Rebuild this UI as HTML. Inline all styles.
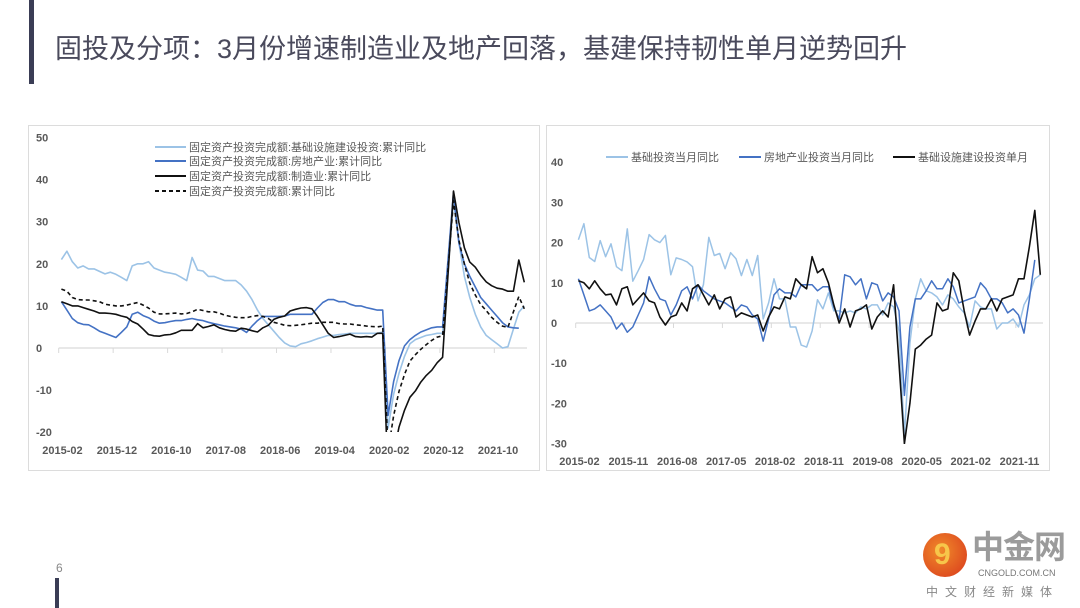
<!DOCTYPE html>
<html><head><meta charset="utf-8">
<style>
body{margin:0;width:1080px;height:608px;background:#fff;overflow:hidden;position:relative;font-family:"Liberation Sans","Noto Sans CJK SC",sans-serif;}
.abs{position:absolute;white-space:nowrap;}
</style></head>
<body>
<div class="abs" style="left:29px;top:0;width:5px;height:84px;background:#3a3d55"></div>
<div class="abs" style="left:55px;top:27px;font-size:27px;color:#4a4a5c;font-family:'Liberation Sans','Noto Sans CJK SC',sans-serif">固投及分项：3月份增速制造业及地产回落，基建保持韧性单月逆势回升</div>
<div class="abs" style="left:56px;top:561px;font-size:12px;color:#888">6</div>
<div class="abs" style="left:55px;top:578px;width:4px;height:30px;background:#3a3d55"></div>
<div class="abs" style="left:923px;top:533px;width:44px;height:44px;border-radius:50%;background:radial-gradient(circle at 40% 40%,#f08a2a,#d8371c)"></div>
<div class="abs" style="left:934px;top:540px;font-size:30px;line-height:30px;color:#f7c64a;font-weight:bold">9</div>
<div class="abs" style="left:972px;top:527px;font-size:32px;line-height:40px;font-weight:bold;color:#9b9b9b;letter-spacing:-1px">中金网</div>
<div class="abs" style="left:978px;top:568px;font-size:9px;color:#777">CNGOLD.COM.CN</div>
<div class="abs" style="left:926px;top:583px;font-size:12px;color:#888;letter-spacing:7px">中文财经新媒体</div>

<svg class="abs" style="left:0;top:0" width="1080" height="608">
<defs>
<clipPath id="clipL"><rect x="55" y="130" width="480" height="302"/></clipPath>
<clipPath id="clipR"><rect x="570" y="130" width="478" height="314"/></clipPath>
</defs>
<rect x="28.5" y="125.5" width="511" height="345" fill="none" stroke="#dcdcdc"/>
<rect x="546.5" y="125.5" width="503" height="345" fill="none" stroke="#dcdcdc"/>
<g id="L"></g><g id="R"></g>
</svg>
<script>
const months=[];for(let y=2015,m=2;months.length<86;){months.push(y+'-'+String(m).padStart(2,'0'));m++;if(m>12){m=1;y++;}}
const leftTicks=[-20,-10,0,10,20,30,40,50];
const rightTicks=[-30,-20,-10,0,10,20,30,40];
const leftInfra=[21,23,20.5,19,19.5,18.8,18.8,18.2,17.6,18,17.5,16.8,16,19.5,20,20,20.5,19,18.5,18,17.8,17.5,16.8,16,21.5,18.5,18.3,17,17,16.5,16,16,16,15,13.5,11.5,9,7,5.5,4,2.5,1.2,0.5,0.3,1,1.3,1.7,2.2,2.6,3,3,3.2,3.3,3.5,3.5,3.5,3.5,3.5,3.5,3.8,-19,-11,-6,-2,1,2,2.5,3,3.2,3.5,3.5,null,35,25,17,12,8,5,3,2,1,0,0.3,4.5,8.5,10];
const leftRealEstate=[11,9,7,6,5.6,5.5,4.8,4,3.5,3,2.5,3.7,5,8,8.5,7.7,7.2,6.4,5.9,6,6.3,6.5,6.5,6.8,7,6.7,6.5,6.1,5.8,5.5,5.2,5,4.8,4.5,3.7,5.2,6.5,7.5,7.5,7.5,7.5,7.6,8,8,8,8,8,9.5,10.8,11.5,11.5,11,11,10.4,10,10,9.6,9.3,9,9,-16,-8,-3,0.5,2,3,3.8,4.3,4.8,5,5,null,37,25,20,17,14.5,12,10.5,9,7.5,6,5,4.8,4.7,null];
const leftManufacturing=[11,10.5,10,10,9.6,9.2,8.8,8.3,8.3,8.2,8,7.6,7.3,6.3,5.7,4.5,3.2,2.9,2.8,3.1,3.2,3.6,4.2,4.2,4.2,5.8,4.8,5.1,5.5,4.8,4.4,4.1,4,4.7,4.5,4.1,3.8,4.8,5.4,6.8,7.3,7.6,8.8,9.2,9.5,9.6,9.3,7.5,5.5,3.5,2.5,2.7,3,3.3,2.7,2.6,2.7,2.6,3.5,3.5,-31.5,-25.2,-18.8,-14.8,-11.7,-10.2,-8.1,-6.5,-5.3,-3.5,-2.2,null,37.3,29.8,23.8,20.4,19.2,17.3,15.7,14.8,14.2,14,13.5,13.5,20.9,15.6];
const leftTotal=[14,13.5,12,11.5,11.4,11.4,11.2,11,10.4,10.2,10,10,10.2,10.5,10.8,10.2,9.5,8.5,8.1,8.1,8.2,8.3,8.1,8.2,8.6,9.2,8.9,8.6,8.6,8.3,7.8,7.5,7.3,7.2,7.2,7.5,7.7,7.5,7,6.1,5.8,5.4,5.3,5.4,5.5,5.7,5.9,5.9,6.1,6.1,6.1,5.8,5.7,5.7,5.5,5.4,5.2,5.1,5,5.2,-24.5,-16.1,-10.3,-6.3,-3.1,-1.6,-0.3,0.8,1.8,2.6,2.9,null,35,25.6,19.9,15.4,12.6,10.3,8.9,7.3,6.1,5.2,4.9,null,12.2,9.3];
const rightInfra=[20.7,24.7,16.3,15.3,20.5,16.5,19.7,14,13,23.4,10.4,13,15.8,22,20.7,20,21.8,12,16.2,15.8,15.2,14,5.5,9.5,21.3,16.8,17.3,13.5,17.5,16,11.8,15.8,11.8,16.8,1,5,11,6,6,-1,-1,-5.5,-6,-2,5.8,3.5,7.5,3,3,2.5,3,2.5,4,3.5,4.5,4.5,2,5,4,-2,-28,-5,6,11,8,7.5,6.5,4.5,7,6,4,2.5,-1,5.5,4,3.5,3.5,-1.5,0,0,1,-1,4.5,7,11,12];
const rightRealEstate=[11,7,3,3.5,4.5,3,1.5,-1.5,0,-2.3,-1,2,5,11.5,8.5,6,5.5,2,4.5,8,9,6,9.5,8,7,6,5.5,5,4,3,4.5,4,2,1,-4.5,1,7,8.5,7.5,7.5,6.5,9.5,9.5,9.5,8,9,9,4,1,12,11.5,9.5,11,6,10,9.5,5.5,7.5,6.5,3,-18,-1,6,6,8,10.5,8.5,8.5,11,9,5,5.5,6,6.5,10,8.5,6,6,5,2.5,3.5,2,-2.5,6,15.7,null];
const rightInfraSingle=[10.5,10,8.5,10.5,8.5,7,7.2,4.5,8.5,9,4.5,6,7.5,5.5,5,1.5,-0.5,1.5,2,5,3,8.5,9.5,7,4.5,7,3.5,6,6.5,1.5,2.5,2,1.5,2,-2,1.5,4,3.5,6.5,6,11,9.5,8.5,16.5,12.5,13.5,10,4.5,0,3.5,-1,3,3.5,4.5,-1.5,1.5,3,1.5,9.5,-10,-30,-20,-6.5,-5.5,-4,-3,5,3,3.5,12.5,10.5,3,-3,0.5,3.5,3.5,6,3,6,6.5,7,11,11,19,28,12];

const NS='http://www.w3.org/2000/svg';
function mk(parent,tag,attrs){const e=document.createElementNS(NS,tag);for(const k in attrs)e.setAttribute(k,attrs[k]);parent.appendChild(e);return e;}

function drawChart(gid,cfg){
  const g=document.getElementById(gid);
  const n=months.length, bw=(cfg.x1-cfg.x0)/n;
  const X=i=>cfg.x0+(i+0.5)*bw;
  const Y=v=>cfg.zeroY-v*cfg.pxPerUnit;
  cfg.ticks.forEach(t=>{
    const tx=mk(g,'text',{x:cfg.labelX,y:Y(t)+4,'font-size':11,fill:'#595959','font-weight':'bold'});
    tx.textContent=t;
    
    
  });
  const ax=mk(g,'line',{x1:cfg.x0,x2:cfg.x1,y1:cfg.zeroY,y2:cfg.zeroY,stroke:'#d9d9d9','stroke-width':1.2});
  
  
  for(let i=0;i<n;i+=cfg.every){
    const tk=mk(g,'line',{x1:cfg.x0+i*bw,x2:cfg.x0+i*bw,y1:cfg.zeroY,y2:cfg.zeroY+5,stroke:'#d9d9d9'});
    
    
    const lb=mk(g,'text',{x:X(i)+1,y:cfg.xLabelY,'font-size':11,fill:'#595959','font-weight':'bold','text-anchor':'middle'});
    lb.textContent=months[i];
    
    
  }
  const sg=mk(g,'g',{'clip-path':'url(#'+cfg.clip+')'});
  cfg.series.forEach(s=>{
    let d='';s.data.forEach((v,i)=>{if(v===null)return;d+=(d?'L':'M')+X(i).toFixed(1)+' '+Y(v).toFixed(1);});
    const p=mk(sg,'path',{d:d,fill:'none',stroke:s.color,'stroke-width':s.w,'stroke-linejoin':'round'});
    if(s.dash)p.setAttribute('stroke-dasharray',s.dash);
    
    
  });
  cfg.legend.forEach((l,k)=>{
    const s=cfg.series[k];
    const ln=mk(g,'line',{x1:l.x,x2:l.x+l.len,y1:l.y,y2:l.y,stroke:s.color,'stroke-width':s.w+0.4});
    if(s.dash)ln.setAttribute('stroke-dasharray','4 3');
    
    
    const t=mk(g,'text',{x:l.x+l.len+3,y:l.y+4,'font-size':11,fill:'#595959'});
    t.textContent=l.text;
    
    
  });
}
drawChart('L',{x0:58.7,x1:527,zeroY:348,pxPerUnit:4.21,ticks:leftTicks,labelX:36,every:10,xLabelY:454,clip:'clipL',
 series:[
  {data:leftInfra,color:'#9cc3e6',w:1.6,name:'line-infra-cumulative'},
  {data:leftRealEstate,color:'#4472c4',w:1.6,name:'line-realestate-cumulative'},
  {data:leftManufacturing,color:'#111',w:1.6,name:'line-manufacturing-cumulative'},
  {data:leftTotal,color:'#111',w:1.6,dash:'4 3',name:'line-fai-total-cumulative'}],
 legend:[{x:155,y:147,len:31,text:'固定资产投资完成额:基础设施建设投资:累计同比'},{x:155,y:161,len:31,text:'固定资产投资完成额:房地产业:累计同比'},{x:155,y:176,len:31,text:'固定资产投资完成额:制造业:累计同比'},{x:155,y:191,len:31,text:'固定资产投资完成额:累计同比'}]});
drawChart('R',{x0:575.7,x1:1043,zeroY:323,pxPerUnit:4.02,ticks:rightTicks,labelX:551,every:9,xLabelY:465,clip:'clipR',
 series:[
  {data:rightInfra,color:'#9cc3e6',w:1.5,name:'line-infra-monthly'},
  {data:rightRealEstate,color:'#4472c4',w:1.5,name:'line-realestate-monthly'},
  {data:rightInfraSingle,color:'#111',w:1.6,name:'line-infra-single-month'}],
 legend:[{x:606,y:157,len:22,text:'基础投资当月同比'},{x:739,y:157,len:22,text:'房地产业投资当月同比'},{x:893,y:157,len:22,text:'基础设施建设投资单月'}]});
</script>
</body></html>
